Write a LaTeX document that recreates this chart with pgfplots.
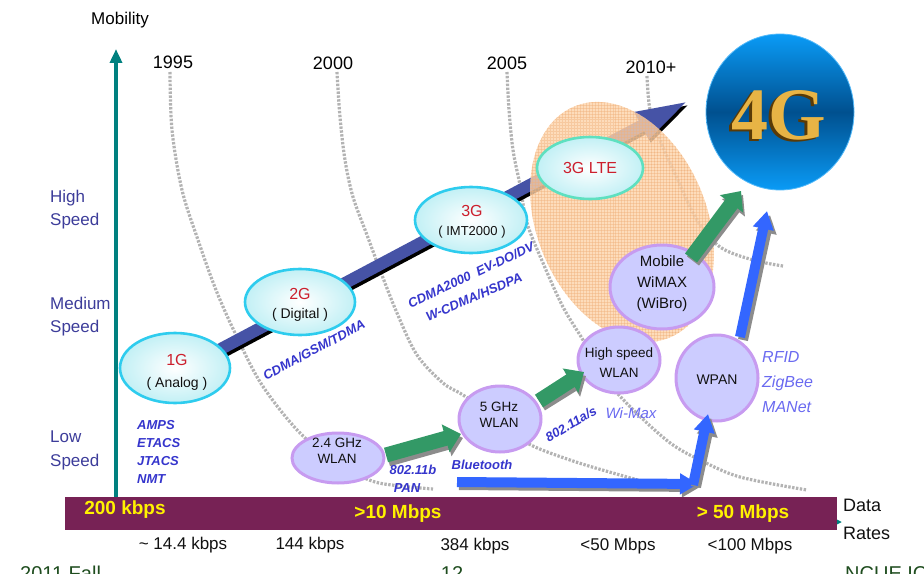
\documentclass[border=0pt]{standalone}
\usepackage{pgfplots}
\pgfplotsset{compat=1.18}
\usetikzlibrary{arrows.meta,patterns}
\usepackage{fontspec}
\setmainfont{Liberation Sans}
\newfontfamily\serifface{Liberation Serif}
\definecolor{tealax}{HTML}{00807F}
\definecolor{navylab}{HTML}{3D3D9A}
\definecolor{blueit}{HTML}{3535CC}
\definecolor{lightit}{HTML}{6A6AF0}
\definecolor{redg}{HTML}{CC1F2D}
\definecolor{cyanb}{HTML}{2ECCEE}
\definecolor{cyanf}{HTML}{C2F0F5}
\definecolor{lteb}{HTML}{5EE0C0}
\definecolor{lavf}{HTML}{CCCCFF}
\definecolor{lavb}{HTML}{C79BF0}
\definecolor{mainarr}{HTML}{4653A6}
\definecolor{greenarr}{HTML}{339966}
\definecolor{bluearr}{HTML}{3366FF}
\definecolor{blobc}{HTML}{FDD3AA}
\definecolor{blobg}{HTML}{F0B27E}
\definecolor{maroonbar}{HTML}{772255}
\definecolor{dotg}{HTML}{B3B3B3}
\definecolor{footg}{HTML}{1F4D1F}
\definecolor{sky}{HTML}{0A9BF6}
\definecolor{deepb}{HTML}{00508F}
\definecolor{gold}{HTML}{E8B445}
\definecolor{goldd}{HTML}{5A3A06}
\definecolor{txt}{HTML}{111111}
\newcommand{\fs}[2]{\fontsize{#1bp}{#2bp}\selectfont}
\tikzset{
  dotc/.style={smooth, tension=0.55, dotg, line width=3.2bp, dash pattern=on 2.4bp off 1.5bp},
  garr/.style={greenarr, line width=15bp, -{Triangle[length=16bp,width=28bp]}},
  gsh/.style={black!45, line width=15bp, -{Triangle[length=16bp,width=28bp]}},
  barr/.style={bluearr, line width=10bp, -{Triangle[length=18bp,width=20bp]}},
  bsh/.style={black!45, line width=10bp, -{Triangle[length=18bp,width=20bp]}},
  cyell/.style={cyanb, line width=2.6bp},
  lavell/.style={lavb, line width=3bp, fill=lavf},
}
\begin{document}
\begin{tikzpicture}
\begin{axis}[
  width=924bp, height=574bp, scale only axis,
  xmin=0, xmax=924, ymin=0, ymax=574, y dir=reverse,
  hide axis, clip=true, no markers,
]
\coordinate (BL) at (0,574);
\coordinate (TR) at (924,0);
% dotted year curves
\addplot[dotc] coordinates {(170,72) (172,130) (182,190) (198,240) (216,290) (236,335) (262,385) (300,433) (340,465) (372,481) (400,486) (433,489)};
\addplot[dotc] coordinates {(337,72) (340,117) (345,160) (353,197) (367,235) (380,270) (397,313) (417,355) (443,383) (463,395) (500,420) (527,443) (573,461) (627,477) (675,490)};
\addplot[dotc] coordinates {(507,72) (509,110) (513,150) (520,185) (527,223) (543,263) (563,307) (583,340) (600,370) (617,393) (647,423) (673,445) (700,460) (740,477) (807,490)};
\addplot[dotc] coordinates {(647,76) (650,110) (660,140) (676,176) (697,220) (720,247) (753,260) (783,266)};
% main evolution arrow
\addplot[black, line width=12bp, -{Triangle[length=55bp,width=27bp]}] coordinates {(202,363) (692,103)};
\addplot[mainarr, line width=12bp, -{Triangle[length=55bp,width=27bp]}] coordinates {(200,360) (690,100)};
% orange blob
\fill[blobc, opacity=0.8, rotate around={-67.6:(622,222)}] (622,222) ellipse [x radius=125bp, y radius=85bp];
\fill[pattern=grid, pattern color=blobg, opacity=0.45, rotate around={-67.6:(622,222)}] (622,222) ellipse [x radius=125bp, y radius=85bp];
% cyan ellipses
\shade[inner color=white, outer color=cyanf] (175,368) ellipse [x radius=55bp, y radius=35bp];
\draw[cyell] (175,368) ellipse [x radius=55bp, y radius=35bp];
\shade[inner color=white, outer color=cyanf] (300,302) ellipse [x radius=55bp, y radius=33bp];
\draw[cyell] (300,302) ellipse [x radius=55bp, y radius=33bp];
\shade[inner color=white, outer color=cyanf] (471,220) ellipse [x radius=56bp, y radius=33bp];
\draw[cyell] (471,220) ellipse [x radius=56bp, y radius=33bp];
\shade[inner color=white, outer color=cyanf] (590,168) ellipse [x radius=53bp, y radius=31bp];
\draw[lteb, line width=2.6bp] (590,168) ellipse [x radius=53bp, y radius=31bp];
% lavender ellipses
\draw[lavell] (338,458) ellipse [x radius=46bp, y radius=25bp];
\draw[lavell] (500,419) ellipse [x radius=41bp, y radius=33bp];
\draw[lavell] (619,360) ellipse [x radius=41bp, y radius=33bp];
\draw[lavell] (662,287) ellipse [x radius=52bp, y radius=42bp];
\draw[lavell] (717,378) ellipse [x radius=41bp, y radius=43bp];
% green arrows
\addplot[gsh] coordinates {(388,459) (463,438)};
\addplot[garr] coordinates {(386,455) (461,434)};
\addplot[gsh] coordinates {(541,404) (586,376)};
\addplot[garr] coordinates {(539,401) (584,372)};
\addplot[gsh] coordinates {(693,261) (743,195)};
\addplot[garr] coordinates {(691,258) (741,191)};
% blue arrows
\addplot[bsh] coordinates {(459,485) (700,487)};
\addplot[barr] coordinates {(457,482) (698,484)};
\addplot[bsh] coordinates {(696,487) (711,418)};
\addplot[barr] coordinates {(693,485) (708,414)};
\addplot[bsh] coordinates {(743,340) (770,215)};
\addplot[barr] coordinates {(740,337) (767,211)};
% 4G circle
\shade[top color=sky, bottom color=sky, middle color=deepb] (780,112) ellipse [x radius=74bp, y radius=78bp];
\draw[sky!70!white, line width=0.8bp] (780,112) ellipse [x radius=74bp, y radius=78bp];
\node[inner sep=0, text=goldd, font=\serifface\bfseries\fs{74}{74}] at (776,117) {4G};
\node[inner sep=0, text=gold, font=\serifface\bfseries\fs{74}{74}] at (779,115) {4G};
% axes
\addplot[tealax, line width=4.5bp, -{Triangle[length=14bp,width=12bp]}] coordinates {(116,500) (116,49)};
\addplot[tealax, line width=3bp, -{Triangle[length=10bp,width=9bp]}] coordinates {(116,521) (842,522)};
\fill[maroonbar] (65,497) rectangle (837,530);
% texts: headings
\node[inner sep=0, font=\fs{17}{20}] at (120,20) {Mobility};
\node[inner sep=0, font=\fs{18}{20}] at (173,62) {1995};
\node[inner sep=0, font=\fs{18}{20}] at (333,63) {2000};
\node[inner sep=0, font=\fs{18}{20}] at (507,63) {2005};
\node[inner sep=0, font=\fs{18}{20}] at (651,67) {2010+};
\node[inner sep=0, anchor=west, align=left, text=navylab, font=\fs{17}{23}] at (50,210) {High\\Speed};
\node[inner sep=0, anchor=west, align=left, text=navylab, font=\fs{17}{23}] at (50,317) {Medium\\Speed};
\node[inner sep=0, anchor=west, align=left, text=navylab, font=\fs{17}{24}] at (50,450) {Low\\Speed};
% ellipse labels
\node[inner sep=0, text=redg, font=\fs{16}{18}] at (177,360) {1G};
\node[inner sep=0, text=txt, font=\fs{14}{16}] at (177,384) {( Analog )};
\node[inner sep=0, text=redg, font=\fs{16}{18}] at (300,294) {2G};
\node[inner sep=0, text=txt, font=\fs{14}{16}] at (300,315) {( Digital )};
\node[inner sep=0, text=redg, font=\fs{16}{18}] at (472,211) {3G};
\node[inner sep=0, text=txt, font=\fs{13}{16}] at (472,232) {( IMT2000 )};
\node[inner sep=0, text=redg, font=\fs{16}{18}] at (590,168) {3G LTE};
\node[inner sep=0, align=center, text=txt, font=\fs{15}{21}] at (662,284) {Mobile\\WiMAX\\(WiBro)};
\node[inner sep=0, align=center, text=txt, font=\fs{13.5}{20}] at (619,363) {High speed\\WLAN};
\node[inner sep=0, text=txt, font=\fs{14}{16}] at (717,380) {WPAN};
\node[inner sep=0, align=center, text=txt, font=\fs{13.5}{16}] at (337,451) {2.4 GHz\\WLAN};
\node[inner sep=0, align=center, text=txt, font=\fs{13.5}{16}] at (499,415) {5 GHz\\WLAN};
% blue italic labels
\node[inner sep=0, anchor=west, align=left, text=blueit, font=\bfseries\itshape\fs{13}{17.7}] at (137,452) {AMPS\\ETACS\\JTACS\\NMT};
\node[inner sep=0, rotate=28, text=blueit, font=\bfseries\itshape\fs{13}{15}] at (314,350) {CDMA/GSM/TDMA};
\node[inner sep=0, rotate=25, text=blueit, font=\bfseries\itshape\fs{13}{15}] at (471,275) {CDMA2000\ \ EV-DO/DV};
\node[inner sep=0, rotate=23, text=blueit, font=\bfseries\itshape\fs{13}{15}] at (474,297) {W-CDMA/HSDPA};
\node[inner sep=0, text=blueit, font=\bfseries\itshape\fs{13}{15}] at (413,470) {802.11b};
\node[inner sep=0, text=blueit, font=\bfseries\itshape\fs{13}{15}] at (407,488) {PAN};
\node[inner sep=0, text=blueit, font=\bfseries\itshape\fs{13}{15}] at (482,465) {Bluetooth};
\node[inner sep=0, rotate=31, text=blueit, font=\bfseries\itshape\fs{13}{15}] at (571,424) {802.11a/s};
\node[inner sep=0, text=lightit, font=\itshape\fs{15}{17}] at (631,413) {Wi-Max};
\node[inner sep=0, anchor=west, align=left, text=lightit, font=\itshape\fs{16}{25}] at (762,382) {RFID\\ZigBee\\MANet};
% bar texts
\node[inner sep=0, text=yellow, font=\bfseries\fs{19}{20}] at (125,510) {200 kbps};
\node[inner sep=0, text=yellow, font=\bfseries\fs{19}{20}] at (398,514) {>10 Mbps};
\node[inner sep=0, text=yellow, font=\bfseries\fs{19}{20}] at (743,514) {> 50 Mbps};
\node[inner sep=0, anchor=west, align=left, text=txt, font=\fs{18}{28}] at (843,519) {Data\\Rates};
% bottom rate labels
\node[inner sep=0, text=txt, font=\fs{17}{20}] at (183,545) {\textasciitilde\ 14.4 kbps};
\node[inner sep=0, text=txt, font=\fs{17}{20}] at (310,545) {144 kbps};
\node[inner sep=0, text=txt, font=\fs{17}{20}] at (475,546) {384 kbps};
\node[inner sep=0, text=txt, font=\fs{17}{20}] at (618,546) {<50 Mbps};
\node[inner sep=0, text=txt, font=\fs{17}{20}] at (750,546) {<100 Mbps};
% footer (cut off at the bottom, as in the reference)
\node[inner sep=0, anchor=base west, text=footg, font=\fs{20}{22}] at (20,580) {2011 Fall};
\node[inner sep=0, anchor=base, text=footg, font=\fs{20}{22}] at (452,580) {12};
\node[inner sep=0, anchor=base west, text=footg, font=\fs{20}{22}] at (845,580) {NCUE ICE};
\end{axis}
\pgfresetboundingbox
\useasboundingbox (BL) rectangle (TR);
\end{tikzpicture}
\end{document}
